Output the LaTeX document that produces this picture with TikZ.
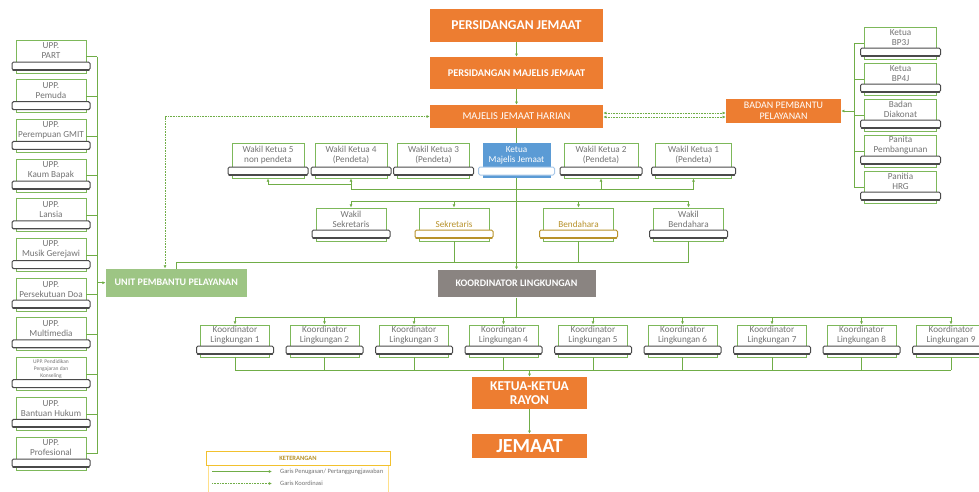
\documentclass[tikz,border=0pt]{standalone}
\usepackage{fontspec}
\setmainfont{Carlito}
\usetikzlibrary{arrows.meta}
\definecolor{orng}{HTML}{ED7D31}
\definecolor{grn}{HTML}{70AD47}
\definecolor{gbord}{HTML}{7DB85A}
\definecolor{uppg}{HTML}{9DC584}
\definecolor{klg}{HTML}{8A8481}
\definecolor{kblue}{HTML}{5B9BD5}
\definecolor{lblue}{HTML}{A9C8E8}
\definecolor{gold}{HTML}{B8922A}
\definecolor{lyel}{HTML}{FFE08A}
\definecolor{yel}{HTML}{F2C12E}
\definecolor{txtg}{HTML}{747474}
\definecolor{barc}{HTML}{4A4A4A}
\tikzset{
 ln/.style={draw=grn, line width=0.6pt},
 dln/.style={draw=grn, line width=0.6pt, densely dotted},
 arr/.style={-{Latex[length=3.2pt,width=3pt]}},
 arrb/.style={{Latex[length=3.2pt,width=3pt]}-{Latex[length=3.2pt,width=3pt]}},
 obox/.style={fill=orng, text=white, inner sep=0pt, align=center},
 gbox/.style={draw=gbord, line width=0.9pt, fill=white, inner sep=0pt},
 btext/.style={text=txtg, align=center, inner sep=0pt, font=\fontsize{9.2}{10}\selectfont},
 bar/.style={fill=white, line width=1pt, rounded corners=1.5pt},
 barbase/.style={line width=1.4pt, line cap=round},
}
% #1 text opts, #2 bar colour, #3 name, #4 cx, #5 top, #6 width, #7 height, #8 text
\newcommand\pbox[8][]{%
 \node[gbox, minimum width=#6pt, minimum height=#7pt] (#3) at ({#4},{#5+#7/2}) {};
 \draw[bar, draw=#2] ({#4-#6/2-4},{#5+#7-11}) rectangle ({#4+#6/2+4},{#5+#7-3});
 \draw[barbase, draw=#2] ({#4-#6/2-3},{#5+#7-3.2}) -- ({#4+#6/2+3},{#5+#7-3.2});
 \node[btext,#1] (#3-t) at ({#4},{#5+(#7-11)/2}) {#8};
}
\begin{document}
\begin{tikzpicture}[x=1pt,y=-1pt]
\useasboundingbox (0,0) rectangle (979,491);
\fill[white] (0,0) rectangle (979,491);

% top chain
\node[obox, minimum width=173pt, minimum height=33pt, font=\bfseries\fontsize{13.5}{15}\selectfont] (pj) at (516.5,25.5) {PERSIDANGAN JEMAAT};
\node[obox, minimum width=173pt, minimum height=32pt, font=\bfseries\fontsize{10.3}{12}\selectfont] (pmj) at (516.5,73) {PERSIDANGAN MAJELIS JEMAAT};
\node[obox, minimum width=173pt, minimum height=23pt, font=\fontsize{10.5}{12}\selectfont] (mjh) at (516.5,116.5) {MAJELIS JEMAAT HARIAN};
\node[obox, minimum width=115pt, minimum height=24pt, font=\fontsize{10}{11}\selectfont] (bpp) at (783.5,111) {BADAN PEMBANTU\\PELAYANAN};

% ketua
\node[fill=kblue, minimum width=68pt, minimum height=35pt, inner sep=0pt] (ketua) at (516.5,160.5) {};
\draw[bar, draw=lblue] (478.5,167) rectangle (554.5,175);
\node[btext, text=white] (ketua-t) at (516.5,155) {Ketua\\Majelis Jemaat};

% wakil ketua row
\pbox{barc}{wk5}{268}{143}{72}{35}{Wakil Ketua 5\\non pendeta}
\pbox{barc}{wk4}{351}{143}{72}{35}{Wakil Ketua 4\\(Pendeta)}
\pbox{barc}{wk3}{433.5}{143}{72}{35}{Wakil Ketua 3\\(Pendeta)}
\pbox{barc}{wk2}{601}{143}{74}{35}{Wakil Ketua 2\\(Pendeta)}
\pbox{barc}{wk1}{693.5}{143}{76}{35}{Wakil Ketua 1\\(Pendeta)}

% second row
\pbox{barc}{ws}{351}{208}{70}{33}{Wakil\\Sekretaris}
\pbox[text=gold,yshift=-5pt]{gold}{sek}{454}{208}{70}{33}{Sekretaris}
\pbox[text=gold,yshift=-5pt]{gold}{bend}{578.5}{208}{70}{33}{Bendahara}
\pbox{barc}{wb}{688.5}{208}{70}{33}{Wakil\\Bendahara}

% unit pembantu / koordinator
\node[fill=uppg, text=white, inner sep=0pt, minimum width=141pt, minimum height=28pt, font=\bfseries\fontsize{10}{12}\selectfont] (upp) at (176.25,282.7) {UNIT PEMBANTU PELAYANAN};
\node[fill=klg, text=white, inner sep=0pt, minimum width=158pt, minimum height=27.5pt, font=\bfseries\fontsize{10}{12}\selectfont] (kl) at (516.5,283.7) {KOORDINATOR LINGKUNGAN};

% coordinators
\foreach \i in {1,...,9}{\pbox{barc}{k\i}{235+89.5*(\i-1)}{325}{69}{32}{Koordinator\\Lingkungan \i}}

\node[obox, minimum width=115pt, minimum height=32pt, font=\bfseries\fontsize{13.5}{14}\selectfont] (kkr) at (529.5,393) {KETUA-KETUA\\RAYON};
\node[obox, minimum width=115pt, minimum height=24pt, font=\bfseries\fontsize{20}{22}\selectfont] (jemaat) at (529.5,446) {JEMAAT};

% left column
\pbox{barc}{u1}{51}{40}{70}{33}{UPP.\\PART}
\pbox{barc}{u2}{51}{79.7}{70}{33}{UPP.\\Pemuda}
\pbox{barc}{u3}{51}{119.4}{70}{33}{UPP.\\Perempuan GMIT}
\pbox{barc}{u4}{51}{159.1}{70}{33}{UPP.\\Kaum Bapak}
\pbox{barc}{u5}{51}{198.8}{70}{33}{UPP.\\Lansia}
\pbox{barc}{u6}{51}{238.5}{70}{33}{UPP.\\Musik Gerejawi}
\pbox{barc}{u7}{51}{278.2}{70}{33}{UPP.\\Persekutuan Doa}
\pbox{barc}{u8}{51}{317.9}{70}{33}{UPP.\\Multimedia}
\pbox[font=\fontsize{5.5}{7}\selectfont]{barc}{u9}{51}{357.6}{70}{33}{UPP. Pendidikan\\Pengajaran dan\\Konseling}
\pbox{barc}{u10}{51}{397.3}{70}{33}{UPP.\\Bantuan Hukum}
\pbox{barc}{u11}{51}{437}{70}{33}{UPP.\\Profesional}

% right column
\pbox{barc}{r1}{900.5}{27}{72}{32}{Ketua\\BP3J}
\pbox{barc}{r2}{900.5}{63}{72}{32}{Ketua\\BP4J}
\pbox{barc}{r3}{900.5}{99}{72}{32}{Badan\\Diakonat}
\pbox{barc}{r4}{900.5}{135}{72}{32}{Panita\\Pembangunan}
\pbox{barc}{r5}{900.5}{171}{72}{32}{Panitia\\HRG}

% ---- connectors ----
\draw[ln,arr] (pj.south) -- (pmj.north);
\draw[ln,arr] (pmj.south) -- (mjh.north);
\draw[ln] (mjh.south) -- (ketua.north);
\draw[ln,arr] (ketua.south) -- (kl.north);

\coordinate (bA) at (516.5,189);
\coordinate (bB) at (351,184);
\draw[ln,arr] (bA) -| (wk4.south);
\draw[ln,arr] (bB) -| (wk5.south);
\draw[ln,arr] (bA) -| (wk1.south);
\draw[ln,arr] (wk2.south |- bA) -- (wk2.south);

\coordinate (bC) at (516.5,201);
\draw[ln,arr] (bC) -| (ws.north);
\draw[ln,arr] (bC) -| (wb.north);
\draw[ln,arr] (sek.north |- bC) -- (sek.north);
\draw[ln,arr] (bend.north |- bC) -- (bend.north);

\coordinate (bD) at (688.5,262);
\draw[ln] (wb.south) -- (bD) -| (upp.north);
\draw[ln] (sek.south) -- (sek.south |- bD);
\draw[ln] (bend.south) -- (bend.south |- bD);

\coordinate (dA) at (165,116.5);
\draw[dln,arrb] (dA |- upp.north) |- (mjh.west);
\coordinate (eA) at (0,113);
\coordinate (eB) at (0,117);
\draw[dln,arrb] (mjh.east |- eA) -- (bpp.west |- eA);
\draw[dln,arrb] (mjh.east |- eB) -- (bpp.west |- eB);

\coordinate (lb) at (97,282.7);
\foreach \i in {1,...,11}{\draw[ln] (u\i.east) -- (u\i.east -| lb);}
\draw[ln] (u1.east -| lb) -- (u11.east -| lb);
\draw[ln,arr] (lb) -- (upp.west);

\coordinate (rb) at (854,111);
\foreach \i in {1,...,5}{\draw[ln] (r\i.west) -- (r\i.west -| rb);}
\draw[ln] (r1.west -| rb) -- (r5.west -| rb);
\draw[ln,arr] (rb) -- (bpp.east);

\coordinate (kA) at (516.5,317);
\draw[ln] (kl.south) -- (kA);
\draw[ln] (k1.north |- kA) -- (k9.north |- kA);
\foreach \i in {1,...,9}{\draw[ln,arr] (k\i.north |- kA) -- (k\i.north);}
\coordinate (kB) at (529.5,370);
\foreach \i in {1,...,9}{\draw[ln] (k\i.south) -- (k\i.south |- kB);}
\draw[ln] (k1.south |- kB) -- (k9.south |- kB);
\draw[ln,arr] (kB) -- (kkr.north);
\draw[ln,arr] (kkr.south) -- (jemaat.north);

% legend
\node[draw=lyel, line width=0.8pt, minimum width=180pt, minimum height=32pt, inner sep=0pt] (legbody) at (298,481) {};
\node[draw=yel, line width=1pt, fill=white, minimum width=184pt, minimum height=14pt, inner sep=0pt, text=gold, font=\bfseries\fontsize{6.5}{7}\selectfont] (ket) at (298,458) {KETERANGAN};
\coordinate (la1) at (212,471.5);
\coordinate (la2) at (272,471.5);
\draw[ln,arr] (la1) -- (la2);
\node[anchor=west, text=txtg, inner sep=0pt, font=\fontsize{6.5}{7}\selectfont] (lt1) at (280,471.5) {Garis Penugasan/ Pertanggungjawaban};
\coordinate (lc1) at (212,483.5);
\coordinate (lc2) at (272,483.5);
\draw[dln,arr] (lc1) -- (lc2);
\node[anchor=west, text=txtg, inner sep=0pt, font=\fontsize{6.5}{7}\selectfont] (lt2) at (280,483.5) {Garis Koordinasi};
\end{tikzpicture}
\end{document}
